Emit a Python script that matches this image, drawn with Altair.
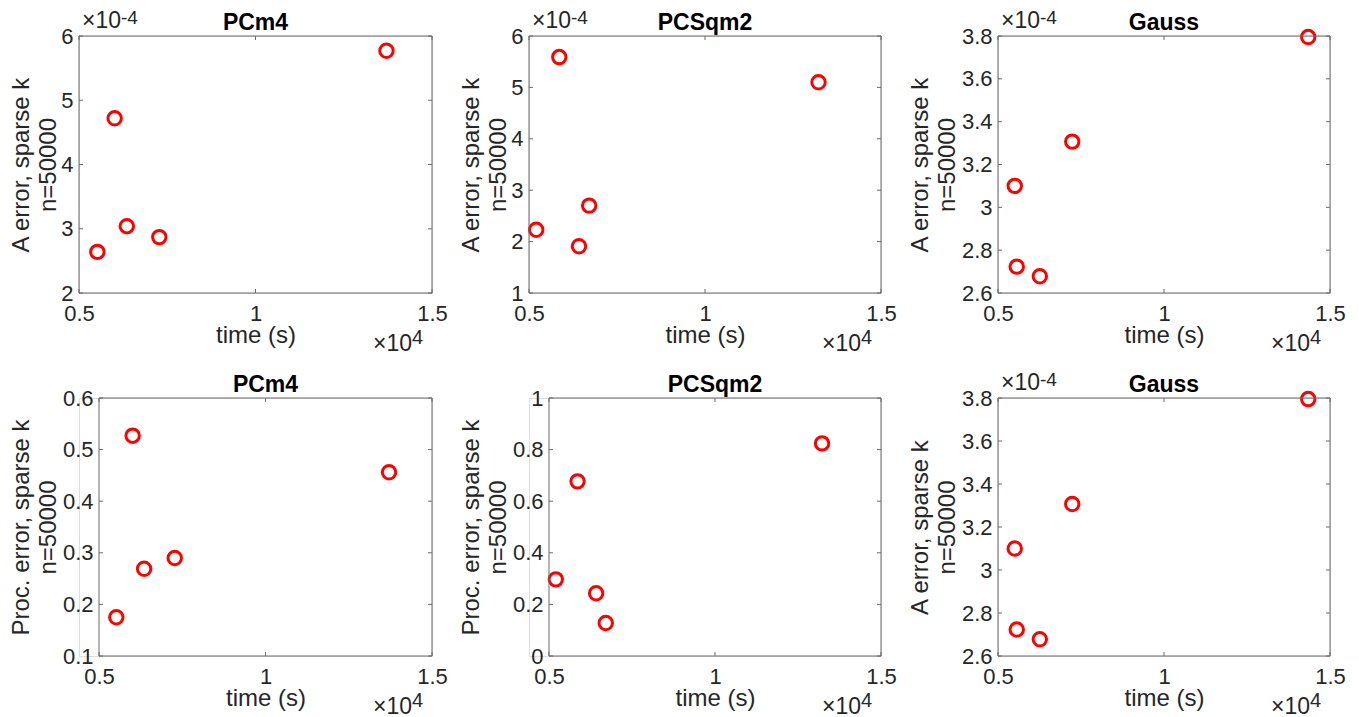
import altair as alt
import pandas as pd

FONT = "Liberation Sans"
RED = "#ff0000"
FRAME = "#6b6b6b"
TXT = "#262626"

# ---------------- data ----------------
x_ticks = [5000, 10000, 15000]

# PCm4
t_pcm4 = [5520, 6010, 6355, 7275, 13710]
a_pcm4 = [2.64e-4, 4.72e-4, 3.04e-4, 2.87e-4, 5.77e-4]
p_pcm4 = [0.175, 0.527, 0.269, 0.290, 0.456]

# PCSqm2
t_pcsq = [5205, 5860, 6420, 6710, 13225]
a_pcsq = [2.23e-4, 5.59e-4, 1.91e-4, 2.70e-4, 5.10e-4]
p_pcsq = [0.297, 0.677, 0.243, 0.128, 0.824]

# Gauss
t_gauss = [5505, 5565, 6260, 7236, 14344]
a_gauss = [3.10e-4, 2.723e-4, 2.678e-4, 3.307e-4, 3.795e-4]

# y tick values
yt_a_pcm4 = [2e-4, 3e-4, 4e-4, 5e-4, 6e-4]
yt_a_pcsq = [1e-4, 2e-4, 3e-4, 4e-4, 5e-4, 6e-4]
yt_gauss = [2.6e-4, 2.8e-4, 3.0e-4, 3.2e-4, 3.4e-4, 3.6e-4, 3.8e-4]
yt_p_pcm4 = [0.1, 0.2, 0.3, 0.4, 0.5, 0.6]
yt_p_pcsq = [0.0, 0.2, 0.4, 0.6, 0.8, 1.0]

titles = ["PCm4", "PCSqm2", "Gauss"]
ytitle_a = ["A error, sparse k", "n=50000"]
ytitle_p = ["Proc. error, sparse k", "n=50000"]
xtitle = "time (s)"


def panel(title, t, v, yticks, scaled, ytitle, width, height, off, title_x):
    ymin, ymax = yticks[0], yticks[-1]
    xmin, xmax = x_ticks[0], x_ticks[-1]
    xsc = alt.Scale(domain=[xmin, xmax], range=[off, width], nice=False, zero=False)
    ysc = alt.Scale(domain=[ymin, ymax], nice=False, zero=False)
    lab = ("format(datum.value * 10000, '.1~f')" if scaled
           else "format(datum.value, '.1~f')")
    xaxis = alt.Axis(values=x_ticks, labelExpr="datum.value / 10000", title=xtitle,
                     domain=False, ticks=False, tickSize=0, grid=False,
                     labelFlush=False, labelOverlap=False, labelPadding=10,
                     labelFont=FONT, labelFontSize=22, labelColor=TXT,
                     titleFont=FONT, titleFontSize=24, titleFontWeight="normal",
                     titleColor=TXT, titleY=49, titleBaseline="alphabetic")
    yaxis = alt.Axis(values=yticks, labelExpr=lab, title=ytitle, offset=-off,
                     domain=False, ticks=False, tickSize=0, grid=False,
                     labelFlush=False, labelOverlap=False, labelPadding=6,
                     labelFont=FONT, labelFontSize=22, labelColor=TXT,
                     titleFont=FONT, titleFontSize=24, titleFontWeight="normal",
                     titleColor=TXT, titleX=title_x, titleBaseline="alphabetic",
                     titleLineHeight=27)

    def X(**kw):
        return alt.X(scale=xsc, axis=xaxis, **kw)

    def Y(**kw):
        return alt.Y(scale=ysc, axis=yaxis, **kw)

    pts = pd.DataFrame({"t": t, "v": v})
    one = pd.DataFrame({"k": [0]})
    xt = pd.DataFrame({"xt": x_ticks})
    ytd = pd.DataFrame({"yt": yticks})

    points = alt.Chart(pts).mark_point(
        shape="circle", filled=False, size=180, strokeWidth=3, color=RED, opacity=1
    ).encode(x=X(field="t", type="quantitative"), y=Y(field="v", type="quantitative"))

    frame = alt.Chart(one).mark_rect(fillOpacity=0, stroke=FRAME, strokeWidth=1).encode(
        x=X(datum=xmin), x2=alt.X2(datum=xmax),
        y=Y(datum=ymin), y2=alt.Y2(datum=ymax))

    tb = alt.Chart(xt).mark_rule(color=FRAME, strokeWidth=1, y2Offset=-4).encode(
        x=X(field="xt", type="quantitative"), y=Y(datum=ymin), y2=alt.Y2(datum=ymin))
    tt = alt.Chart(xt).mark_rule(color=FRAME, strokeWidth=1, y2Offset=4).encode(
        x=X(field="xt", type="quantitative"), y=Y(datum=ymax), y2=alt.Y2(datum=ymax))
    tl = alt.Chart(ytd).mark_rule(color=FRAME, strokeWidth=1, x2Offset=4).encode(
        y=Y(field="yt", type="quantitative"), x=X(datum=xmin), x2=alt.X2(datum=xmin))
    tr = alt.Chart(ytd).mark_rule(color=FRAME, strokeWidth=1, x2Offset=-4).encode(
        y=Y(field="yt", type="quantitative"), x=X(datum=xmax), x2=alt.X2(datum=xmax))

    ttl = alt.Chart(one).mark_text(
        text=title, font=FONT, fontSize=23, fontWeight="bold", color="black",
        align="center", baseline="alphabetic", dy=-6
    ).encode(x=X(datum=(xmin + xmax) / 2), y=Y(datum=ymax))

    xb = alt.Chart(one).mark_text(
        text="\u00d710", font=FONT, fontSize=23, color=TXT,
        align="right", baseline="alphabetic", dx=-20, dy=58
    ).encode(x=X(datum=xmax), y=Y(datum=ymin))
    xe = alt.Chart(one).mark_text(
        text="4", font=FONT, fontSize=20, color=TXT,
        align="left", baseline="alphabetic", dx=-20, dy=51
    ).encode(x=X(datum=xmax), y=Y(datum=ymin))

    layers = [points, frame, tb, tt, tl, tr, ttl, xb, xe]
    if scaled:
        yb = alt.Chart(one).mark_text(
            text="\u00d710", font=FONT, fontSize=23, color=TXT,
            align="left", baseline="alphabetic", dx=3, dy=-8
        ).encode(x=X(datum=xmin), y=Y(datum=ymax))
        ye = alt.Chart(one).mark_text(
            text="-4", font=FONT, fontSize=19, color=TXT,
            align="left", baseline="alphabetic", dx=42, dy=-12
        ).encode(x=X(datum=xmin), y=Y(datum=ymax))
        layers += [yb, ye]

    return alt.layer(*layers).properties(width=width, height=height)


p1 = panel(titles[0], t_pcm4, a_pcm4, yt_a_pcm4, True, ytitle_a, 353, 257, 0, -51)
p2 = panel(titles[1], t_pcsq, a_pcsq, yt_a_pcsq, True, ytitle_a, 352, 257, 0, -51)
p3 = panel(titles[2], t_gauss, a_gauss, yt_gauss, True, ytitle_a, 332, 257, 0, -71)
p4 = panel(titles[0], t_pcm4, p_pcm4, yt_p_pcm4, False, ytitle_p, 353, 258, 20, -71)
p5 = panel(titles[1], t_pcsq, p_pcsq, yt_p_pcsq, False, ytitle_p, 352, 258, 20, -71)
p6 = panel(titles[2], t_gauss, a_gauss, yt_gauss, True, ytitle_a, 332, 258, 0, -71)

row1 = alt.hconcat(p1, p2, p3, spacing=10)
row2 = alt.hconcat(p4, p5, p6, spacing=10)

chart = alt.vconcat(row1, row2, spacing=13).properties(
    padding={"left": 0, "top": 0, "right": 0, "bottom": 0}
).configure_view(stroke=None).configure(background="white")

chart.save("out.html", embed_options={"renderer": "svg", "actions": False})
